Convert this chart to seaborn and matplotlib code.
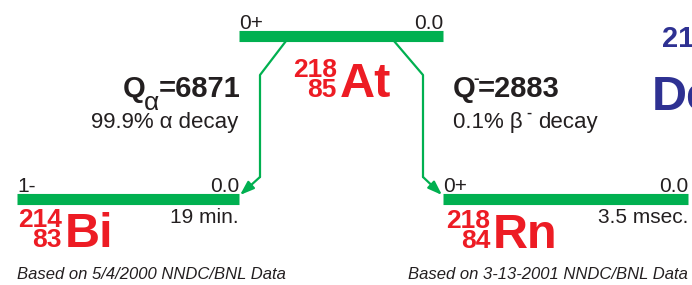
import matplotlib
matplotlib.use('Agg')
import matplotlib.pyplot as plt
import seaborn as sns
import pandas as pd

sns.set_theme(style='white')
plt.rcParams['font.family'] = ['Liberation Sans', 'DejaVu Sans']

GREEN = '#00b050'
RED = '#ed1c24'
BLUE = '#2e3192'
INK = '#231f20'

# levels: parent At-218, daughters Bi-214 (alpha) and Rn-218 (beta-)
level_names = ['At', 'Bi', 'Rn']
level_mass = ['218', '214', '218']
level_z = ['85', '83', '84']
level_spin = ['0+', '1-', '0+']
level_energy = ['0.0', '0.0', '0.0']
level_halflife = ['', '19 min.', '3.5 msec.']
level_x0 = [239, 17, 443]
level_x1 = [443, 239, 688]
level_y = [35.5, 198.5, 198.5]

# transitions
trans_label = ['alpha', 'beta']
trans_q = ['6871', '2883']
trans_branch = ['99.9%', '0.1%']
trans_path_x = [[286, 260, 260], [394, 423, 423]]
trans_path_y = [[41, 75, 177], [41, 75, 177]]
trans_tip = [(240, 195), (442, 195)]

fig = plt.figure(figsize=(6.92, 2.85), dpi=100)
ax = fig.add_axes([0, 0, 1, 1])

# level bars
ax.hlines(level_y, level_x0, level_x1, colors=GREEN, linewidth=8, capstyle='butt')

# transition lines
rows = []
for name, xs, ys in zip(trans_label, trans_path_x, trans_path_y):
    for i, (x, y) in enumerate(zip(xs, ys)):
        rows.append({'t': name, 'i': i, 'x': x, 'y': y})
df = pd.DataFrame(rows)
sns.lineplot(data=df, x='x', y='y', units='t', estimator=None, sort=False,
             color=GREEN, linewidth=1.6, ax=ax)
for xs, ys, tip in zip(trans_path_x, trans_path_y, trans_tip):
    ax.annotate('', xy=tip, xytext=(xs[-1], ys[-1]),
                arrowprops=dict(arrowstyle='-|>,head_length=0.7,head_width=0.25',
                                color=GREEN, lw=1.6, shrinkA=0, shrinkB=0))
ax.set_xlim(0, 692)
ax.set_ylim(285, 0)
ax.axis('off')

# level labels
for i in range(3):
    ax.text(level_x0[i], level_y[i] - 6.5, level_spin[i], fontsize=15, color=INK,
            ha='left', va='baseline')
    ax.text(level_x1[i], level_y[i] - 6.5, level_energy[i], fontsize=15, color=INK,
            ha='right', va='baseline')
    if level_halflife[i]:
        ax.text(level_x1[i], level_y[i] + 24.5, level_halflife[i], fontsize=15,
                color=INK, ha='right', va='baseline')

# nuclide symbols
sym_x = [340, 65, 493]
sym_base = [97, 247, 248]
for i in range(3):
    ax.text(sym_x[i], sym_base[i], level_names[i], fontsize=35, fontweight='bold',
            color=RED, ha='left', va='baseline')
    ax.text(sym_x[i] - 3, sym_base[i], level_mass[i] + '\n' + level_z[i],
            fontsize=19, fontweight='bold', color=RED, ha='right',
            multialignment='right', va='baseline', linespacing=0.8)

# alpha branch text
ax.text(123, 97, 'Q', fontsize=21, fontweight='bold', color=INK, va='baseline')
ax.text(144, 110, '\u03b1', fontsize=19, color=INK, va='baseline')
ax.text(241, 97, '=' + trans_q[0], fontsize=21, fontweight='bold', color=INK,
        ha='right', va='baseline')
ax.text(238, 128, trans_branch[0] + ' \u03b1 decay', fontsize=16, color=INK,
        ha='right', va='baseline')

# beta branch text
ax.text(453, 97, 'Q', fontsize=21, fontweight='bold', color=INK, va='baseline')
ax.text(473, 83, '-', fontsize=12, fontweight='bold', color=INK, va='baseline')
ax.text(478, 97, '=' + trans_q[1], fontsize=21, fontweight='bold', color=INK,
        ha='left', va='baseline')
ax.text(453, 128, trans_branch[1] + ' \u03b2', fontsize=16, color=INK,
        ha='left', va='baseline')
ax.text(526, 117, '-', fontsize=11, fontweight='bold', color=INK, va='baseline')
ax.text(538, 128, 'decay', fontsize=16, color=INK, ha='left', va='baseline')

# title (cut off at right edge, as in the source image)
ax.text(662, 47, '218At', fontsize=21, fontweight='bold', color=BLUE,
        va='baseline', clip_on=True)
ax.text(652, 110, 'Decay', fontsize=35, fontweight='bold', color=BLUE,
        va='baseline', clip_on=True)

# footer
ax.text(17, 279, 'Based on 5/4/2000 NNDC/BNL Data', fontsize=12, style='italic',
        color=INK, va='baseline')
ax.text(688, 279, 'Based on 3-13-2001 NNDC/BNL Data', fontsize=12, style='italic',
        color=INK, ha='right', va='baseline')

fig.savefig('out.png', dpi=100)
